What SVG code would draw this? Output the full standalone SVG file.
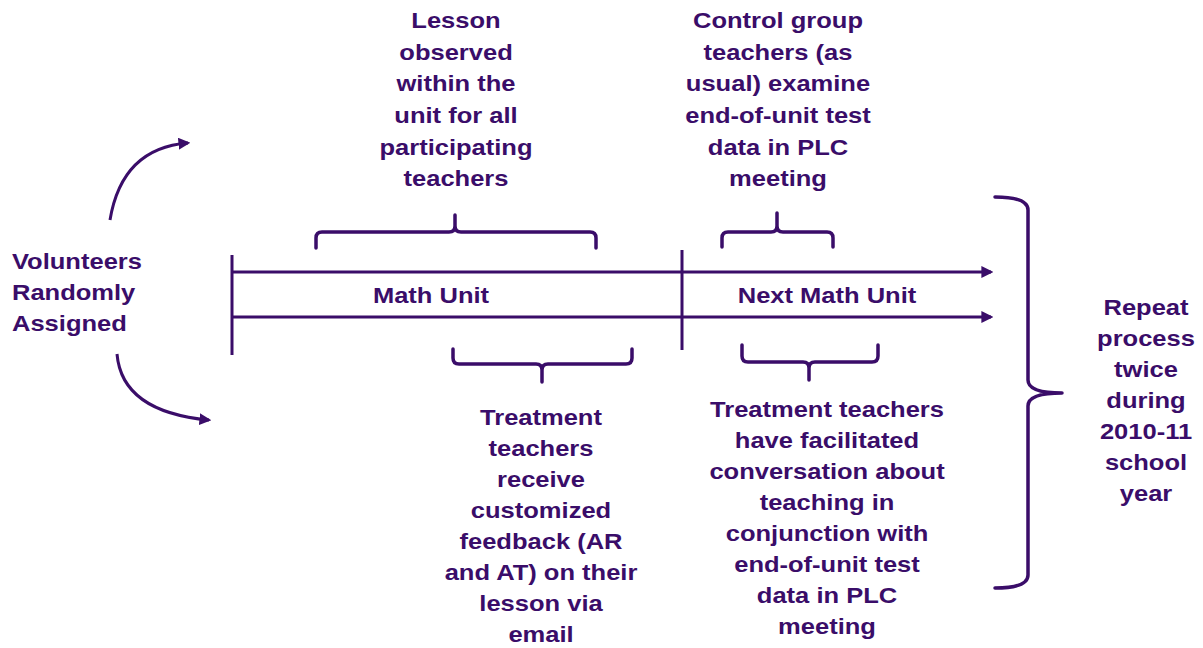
<svg xmlns="http://www.w3.org/2000/svg" width="1203" height="648" viewBox="0 0 1203 648">
<style>
.t{font-family:"Liberation Sans",Arial,sans-serif;font-weight:bold;font-size:22px;fill:#3a0d69;text-anchor:middle}
.l{text-anchor:start}
.ln{fill:none;stroke:#3a0d69;stroke-width:3}
.br{fill:none;stroke:#3a0d69;stroke-width:3.5;stroke-linecap:round;stroke-linejoin:round}
</style>
<defs>
<marker id="ah" viewBox="0 0 10 10" refX="8" refY="5" markerWidth="12" markerHeight="12" markerUnits="userSpaceOnUse" orient="auto">
<path d="M0,0 L10,5 L0,10 Z" fill="#3a0d69"/>
</marker>
</defs>
<rect width="1203" height="648" fill="#ffffff"/>

<g id="connectors">
<path class="ln" d="M110,220 Q122,148 188,143" marker-end="url(#ah)"/>
<path class="ln" d="M117,354 Q122,412 209,420" marker-end="url(#ah)"/>
<line class="ln" x1="232" y1="272" x2="991" y2="272" marker-end="url(#ah)"/>
<line class="ln" x1="232" y1="317" x2="991" y2="317" marker-end="url(#ah)"/>
<line class="ln" x1="232" y1="255" x2="232" y2="355"/>
<line class="ln" x1="682" y1="250" x2="682" y2="350"/>
</g>

<g id="braces">
<path class="br" d="M316,248 V238 Q316,232 322,232 H449 Q455,232 455,226 V215 M455,226 Q455,232 461,232 H590 Q596,232 596,238 V248"/>
<path class="br" d="M453,349 V358 Q453,364 459,364 H536 Q542,364 542,370 V382 M542,370 Q542,364 548,364 H626 Q632,364 632,358 V349"/>
<path class="br" d="M722,247 V238 Q722,232 728,232 H771 Q777,232 777,226 V213 M777,226 Q777,232 783,232 H827 Q833,232 833,238 V247"/>
<path class="br" d="M742,345 V356 Q742,362 748,362 H803 Q809,362 809,368 V380 M809,368 Q809,362 815,362 H872 Q878,362 878,356 V345"/>
<path class="br" d="M995,197 Q1028,197 1028,210 V380 Q1028,393 1062,393 Q1028,393 1028,406 V575 Q1028,588 995,588"/>
</g>

<g id="volunteers">
<text class="t l" transform="matrix(1.16 0 0 1 12 0)"><tspan x="0" y="269">Volunteers</tspan><tspan x="0" y="300">Randomly</tspan><tspan x="0" y="331">Assigned</tspan></text>
</g>

<g id="math-unit">
<text class="t" transform="matrix(1.16 0 0 1 431 0)" x="0" y="303">Math Unit</text>
</g>

<g id="next-math-unit">
<text class="t" transform="matrix(1.16 0 0 1 827 0)" x="0" y="303">Next Math Unit</text>
</g>

<g id="lesson-observed">
<text class="t" transform="matrix(1.16 0 0 1 456 0)"><tspan x="0" y="28">Lesson</tspan><tspan x="0" y="60">observed</tspan><tspan x="0" y="91.5">within the</tspan><tspan x="0" y="123">unit for all</tspan><tspan x="0" y="155">participating</tspan><tspan x="0" y="186">teachers</tspan></text>
</g>

<g id="control-group">
<text class="t" transform="matrix(1.16 0 0 1 778 0)"><tspan x="0" y="28">Control group</tspan><tspan x="0" y="60">teachers (as</tspan><tspan x="0" y="91.5">usual) examine</tspan><tspan x="0" y="123">end-of-unit test</tspan><tspan x="0" y="155">data in PLC</tspan><tspan x="0" y="186">meeting</tspan></text>
</g>

<g id="treatment-feedback">
<text class="t" transform="matrix(1.16 0 0 1 541 0)"><tspan x="0" y="425">Treatment</tspan><tspan x="0" y="456">teachers</tspan><tspan x="0" y="487">receive</tspan><tspan x="0" y="518">customized</tspan><tspan x="0" y="549">feedback (AR</tspan><tspan x="0" y="580">and AT) on their</tspan><tspan x="0" y="611">lesson via</tspan><tspan x="0" y="642">email</tspan></text>
</g>

<g id="treatment-conversation">
<text class="t" transform="matrix(1.16 0 0 1 827 0)"><tspan x="0" y="417">Treatment teachers</tspan><tspan x="0" y="448">have facilitated</tspan><tspan x="0" y="479">conversation about</tspan><tspan x="0" y="510">teaching in</tspan><tspan x="0" y="541">conjunction with</tspan><tspan x="0" y="572">end-of-unit test</tspan><tspan x="0" y="603">data in PLC</tspan><tspan x="0" y="634">meeting</tspan></text>
</g>

<g id="repeat">
<text class="t" transform="matrix(1.16 0 0 1 1146 0)"><tspan x="0" y="315">Repeat</tspan><tspan x="0" y="346">process</tspan><tspan x="0" y="377">twice</tspan><tspan x="0" y="408">during</tspan><tspan x="0" y="439">2010-11</tspan><tspan x="0" y="470">school</tspan><tspan x="0" y="501">year</tspan></text>
</g>
</svg>
